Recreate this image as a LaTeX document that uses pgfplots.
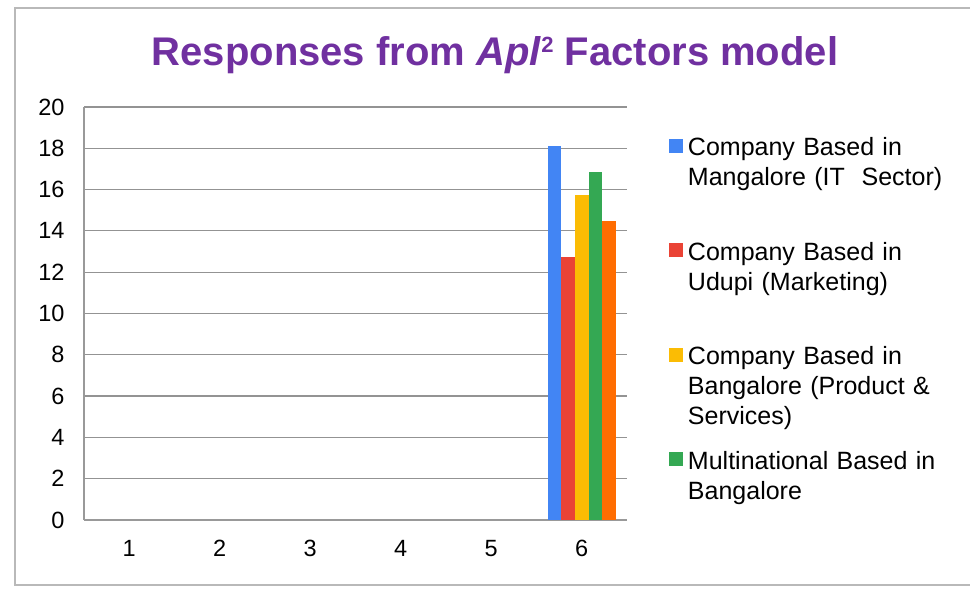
\documentclass[border=0pt]{standalone}
\usepackage{fontspec}
\setmainfont{Liberation Sans}
\usepackage{pgfplots}
\pgfplotsset{compat=1.18}
\definecolor{gblue}{RGB}{66,133,244}
\definecolor{gred}{RGB}{234,67,53}
\definecolor{gyellow}{RGB}{251,188,4}
\definecolor{ggreen}{RGB}{52,168,83}
\definecolor{gorange}{RGB}{255,109,1}
\definecolor{titlepurple}{RGB}{112,48,160}
\begin{document}
\begin{tikzpicture}
\useasboundingbox (0pt,0pt) rectangle (970pt,589pt);
\draw[gray!55, line width=2pt] (980pt,581pt) -- (15pt,581pt) -- (15pt,4pt) -- (980pt,4pt);
\node[anchor=base, font=\fontsize{40}{46}\selectfont\bfseries, text=titlepurple] at (495pt,523pt)
  {Responses from \textit{Apl}\raisebox{13pt}{\fontsize{22}{22}\selectfont 2} Factors model};
\begin{axis}[
  at={(84pt,69pt)}, anchor=south west,
  scale only axis, width=543pt, height=413pt,
  ymin=0, ymax=20, ytick={0,2,...,20},
  xmin=0.5, xmax=6.5, xtick={1,...,6},
  enlargelimits=false,
  ybar=0pt, bar width=13.6pt,
  axis lines=left,
  axis line style={-, draw=gray!80, line width=1.2pt},
  major tick length=0pt,
  ymajorgrids,
  grid style={gray!85, line width=1.2pt},
  /pgf/number format/assume math mode=true,
  ticklabel style={font=\fontsize{23.5}{27}\selectfont},
  yticklabel style={xshift=-16pt},
  xticklabel style={yshift=-17pt},
  legend cell align=left,
  legend style={draw=none, fill=none, inner sep=0pt, outer sep=0pt,
    at={(axis description cs:1.0773,0.9298)}, anchor=north west,
    column sep=5pt, row sep=0pt,
    font=\fontsize{25}{30}\selectfont,
    cells={anchor=base west},
    nodes={inner sep=0pt, text width=280pt, align=left, text height=20pt, text depth=84.5pt}},
  legend image code/.code={\fill[#1] (0pt,3pt) rectangle (14pt,17pt);},
]
\addplot[fill=gblue, draw=none] coordinates {(6,18.1)};
\addlegendentry{Company Based in\\Mangalore (IT~~Sector)}
\addplot[fill=gred, draw=none] coordinates {(6,12.75)};
\addlegendentry{Company Based in\\Udupi (Marketing)}
\addplot[fill=gyellow, draw=none] coordinates {(6,15.75)};
\addlegendentry{Company Based in\\Bangalore (Product \&\\Services)}
\addplot[fill=ggreen, draw=none] coordinates {(6,16.85)};
\addlegendentry{Multinational Based in\\Bangalore}
\addplot[fill=gorange, draw=none] coordinates {(6,14.5)};
\end{axis}
\end{tikzpicture}
\end{document}
